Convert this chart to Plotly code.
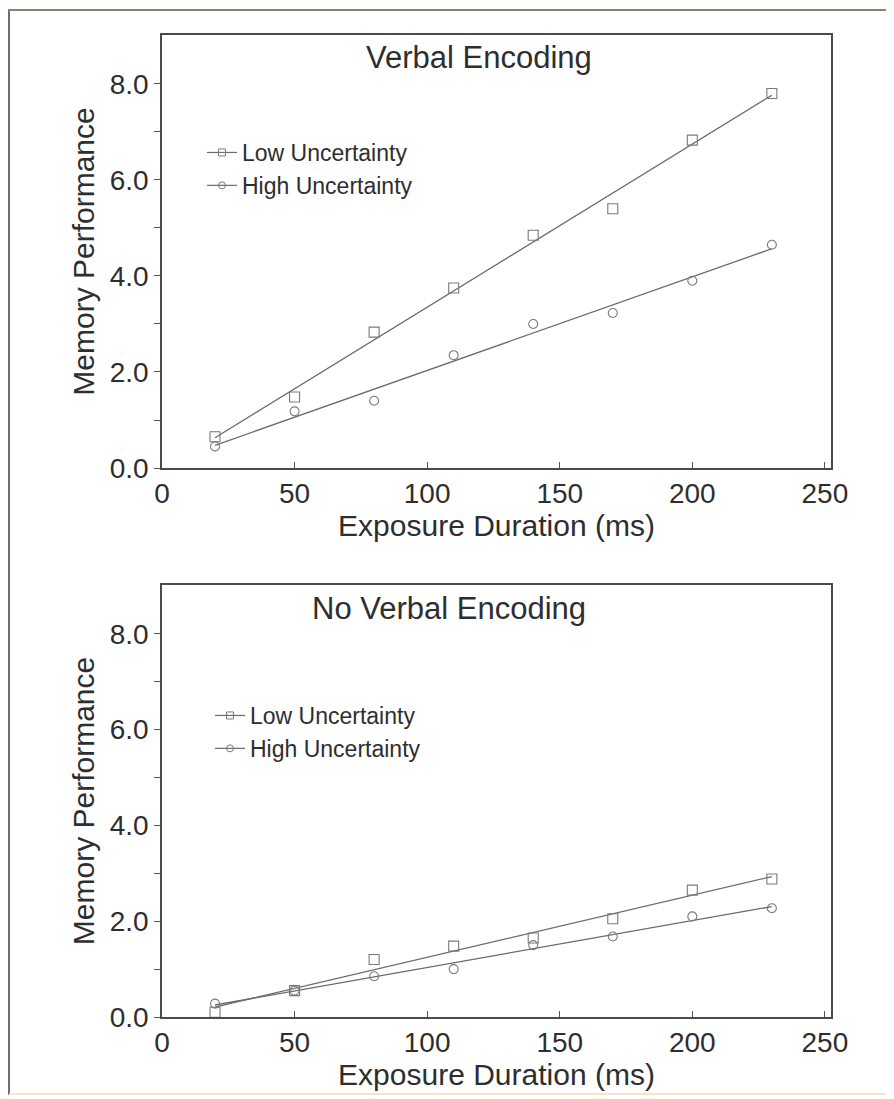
import numpy as np
import plotly.graph_objects as go
from plotly.subplots import make_subplots

# ---- data ----
durations = [20, 50, 80, 110, 140, 170, 200, 230]

verbal_low = [0.65, 1.48, 2.83, 3.75, 4.85, 5.40, 6.83, 7.80]
verbal_high = [0.45, 1.18, 1.40, 2.35, 3.00, 3.23, 3.90, 4.65]

nonverbal_low = [0.10, 0.55, 1.20, 1.48, 1.65, 2.05, 2.65, 2.88]
nonverbal_high = [0.28, 0.55, 0.85, 1.00, 1.50, 1.68, 2.10, 2.27]

panel_titles = ["Verbal Encoding", "No Verbal Encoding"]
series_names = ["Low Uncertainty", "High Uncertainty"]
y_tick_vals = [0, 1, 2, 3, 4, 5, 6, 7, 8]
y_tick_text = ["0.0", "", "2.0", "", "4.0", "", "6.0", "", "8.0"]
x_tick_vals = [0, 50, 100, 150, 200, 250]

# ---- layout geometry (reference-page pixels; page body has an 8px margin) ----
OFF = 8
PAGE_W, PAGE_H = 894, 1099
W, H = PAGE_W - OFF, PAGE_H - OFF
L_R, R_R, T_R, B_R = 162, 831, 35, 1017      # plot area edges in page pixels
ML, MR, MT, MB = L_R - OFF, PAGE_W - R_R, T_R - OFF, PAGE_H - B_R
PW, PH = W - ML - MR, H - MT - MB

def py(pix):
    return (B_R - pix) / PH

def px(pix):
    return (pix - L_R) / PW

FONT = "Liberation Sans, Arial, sans-serif"
TXT = "#2e2e2e"
LINE = "#6a6a6a"
MARK = "#7a7a7a"

fig = make_subplots(rows=2, cols=1)
fig.update_layout(
    yaxis=dict(domain=[py(468), 1.0]),
    yaxis2=dict(domain=[0.0, py(585)]),
)

panels = [(verbal_low, verbal_high), (nonverbal_low, nonverbal_high)]
legends = ["legend", "legend2"]
xs = np.array(durations, dtype=float)
xfit = np.array([min(durations), max(durations)], dtype=float)

for i, (low, high) in enumerate(panels):
    row = i + 1
    for name, vals, sym, msize in [(series_names[0], low, "square-open", 10),
                                   (series_names[1], high, "circle-open", 9)]:
        coef = np.polyfit(xs, np.array(vals), 1)
        fig.add_trace(go.Scatter(
            x=xfit, y=np.polyval(coef, xfit), mode="lines",
            line=dict(color=LINE, width=1.3), showlegend=False, hoverinfo="skip"),
            row=row, col=1)
        fig.add_trace(go.Scatter(
            x=durations, y=vals, mode="markers",
            marker=dict(symbol=sym, size=msize, color=MARK, line=dict(width=1.1, color=MARK)),
            showlegend=False, name=name), row=row, col=1)
        # legend entry (line + marker)
        fig.add_trace(go.Scatter(
            x=[None], y=[None], mode="lines+markers", name=name,
            line=dict(color=LINE, width=1.2),
            marker=dict(symbol=sym, size=7, color=MARK, line=dict(width=1, color=MARK)),
            legend=legends[i]), row=row, col=1)

axis_common = dict(
    showgrid=False, zeroline=False, showline=True, mirror=True,
    linecolor="#4a4a4a", linewidth=1.5,
    tickfont=dict(family=FONT, size=28, color=TXT),
    tickcolor="#555", ticklen=6, tickwidth=1,
)
for r in (1, 2):
    fig.update_xaxes(range=[0, 252.3], tickvals=x_tick_vals, ticks="inside",
                     title=dict(text="Exposure Duration (ms)", font=dict(family=FONT, size=30, color=TXT), standoff=0),
                     row=r, col=1, **axis_common)
    fig.update_yaxes(range=[0, 9.02], tickvals=y_tick_vals, ticktext=y_tick_text, ticks="outside",
                     title=dict(text="Memory Performance", font=dict(family=FONT, size=30, color=TXT), standoff=6),
                     row=r, col=1, **axis_common)

# panel titles
for title, xpix, ypix in zip(panel_titles, [479, 449], [58, 608]):
    fig.add_annotation(text=title, xref="paper", yref="paper", x=px(xpix), y=py(ypix),
                       xanchor="center", yanchor="middle", showarrow=False,
                       font=dict(family=FONT, size=31, color=TXT))

leg_common = dict(xanchor="left", yanchor="top", bgcolor="rgba(0,0,0,0)",
                  font=dict(family=FONT, size=23, color=TXT), itemwidth=30,
                  tracegroupgap=0)
fig.update_layout(
    legend=dict(x=px(202), y=py(131), **leg_common),
    legend2=dict(x=px(210), y=py(694), **leg_common),
)

# outer frame lines
fig.add_shape(type="line", xref="paper", yref="paper", x0=px(9), x1=px(9), y0=py(1095), y1=py(10),
              line=dict(color="#6e6e6e", width=2))
fig.add_shape(type="line", xref="paper", yref="paper", x0=px(8), x1=px(894), y0=py(10), y1=py(10),
              line=dict(color="#8a8070", width=2))
fig.add_shape(type="line", xref="paper", yref="paper", x0=px(9), x1=px(894), y0=py(1094), y1=py(1094),
              line=dict(color="#efe8c8", width=2))

fig.update_layout(
    width=W, height=H,
    margin=dict(l=ML, r=MR, t=MT, b=MB),
    paper_bgcolor="white", plot_bgcolor="white",
    showlegend=True,
)

fig.write_html("out.html")
